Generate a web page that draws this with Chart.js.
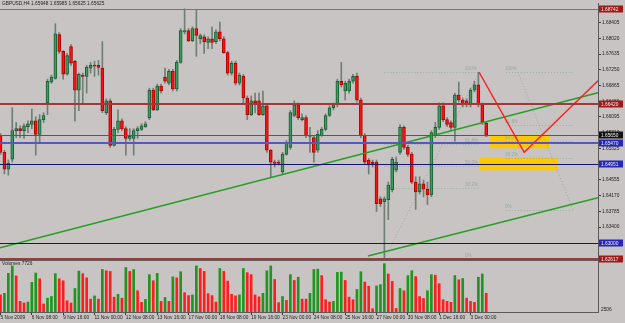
<!DOCTYPE html>
<html>
<head>
<meta charset="utf-8">
<script src="https://cdn.jsdelivr.net/npm/chart.js@4.4.1/dist/chart.umd.min.js"></script>
<style>
  html, body { margin: 0; padding: 0; background: #c8c4c4; }
  canvas { display: block; }
</style>
</head>
<body>
<canvas id="fx" width="625" height="323"></canvas>
<script>
// GBPUSD H4, bars 0..124 (5 Nov 2009 00:00 -> 3 Dec 2009 16:00)
const opens = [
  1.6564, 1.6523, 1.6482, 1.6506, 1.6576, 1.6581, 1.6576, 1.6586, 1.6591, 1.6600,
  1.6567, 1.6603, 1.6644, 1.6695, 1.6704, 1.6811, 1.6770, 1.6714, 1.6782, 1.6746,
  1.6675, 1.6712, 1.6709, 1.6729, 1.6736, 1.6736, 1.6729, 1.6620, 1.6649, 1.6540,
  1.6579, 1.6600, 1.6581, 1.6557, 1.6557, 1.6576, 1.6579, 1.6586, 1.6608, 1.6675,
  1.6627, 1.6685, 1.6707, 1.6692, 1.6721, 1.6678, 1.6743, 1.6818, 1.6821, 1.6796,
  1.6826, 1.6801, 1.6806, 1.6792, 1.6801, 1.6794, 1.6818, 1.6801, 1.6767, 1.6717,
  1.6741, 1.6692, 1.6709, 1.6656, 1.6615, 1.6649, 1.6649, 1.6615, 1.6637, 1.6528,
  1.6499, 1.6499, 1.6475, 1.6518, 1.6535, 1.6613, 1.6639, 1.6603, 1.6608, 1.6562,
  1.6559, 1.6528, 1.6564, 1.6579, 1.6613, 1.6632, 1.6639, 1.6697, 1.6673, 1.6673,
  1.6697, 1.6709, 1.6651, 1.6564, 1.6504, 1.6499, 1.6499, 1.6409, 1.6402, 1.6407,
  1.6431, 1.6479, 1.6523, 1.6584, 1.6535, 1.6518, 1.6450, 1.6426, 1.6446, 1.6433,
  1.6419, 1.6564, 1.6584, 1.6637, 1.6603, 1.6596, 1.6584, 1.6663, 1.6651, 1.6649,
  1.6639, 1.6675, 1.6688, 1.6639, 1.65948
];
const highs = [
  1.6569, 1.6528, 1.6504, 1.6632, 1.6596, 1.6588, 1.6593, 1.6600, 1.6629, 1.6610,
  1.6615, 1.6620, 1.6702, 1.6712, 1.6838, 1.6816, 1.6772, 1.6765, 1.6787, 1.6748,
  1.6717, 1.6717, 1.6736, 1.6743, 1.6746, 1.6748, 1.6794, 1.6654, 1.6654, 1.6584,
  1.6627, 1.6605, 1.6586, 1.6581, 1.6581, 1.6586, 1.6593, 1.6598, 1.6680, 1.6680,
  1.6690, 1.6690, 1.6729, 1.6726, 1.6726, 1.6748, 1.6826, 1.68742, 1.6826, 1.6830,
  1.6872, 1.6813, 1.6811, 1.6806, 1.6830, 1.6823, 1.6842, 1.6806, 1.6770, 1.6746,
  1.6746, 1.6717, 1.6714, 1.6661, 1.6661, 1.6668, 1.6668, 1.6673, 1.6642, 1.6530,
  1.6504, 1.6504, 1.6523, 1.6552, 1.6625, 1.6649, 1.6644, 1.6617, 1.6613, 1.6584,
  1.6564, 1.6576, 1.6584, 1.6617, 1.6637, 1.6644, 1.6702, 1.6743, 1.6697, 1.6702,
  1.6714, 1.6717, 1.6656, 1.6569, 1.6508, 1.6504, 1.6504, 1.6414, 1.6414, 1.6450,
  1.6511, 1.6511, 1.6591, 1.6588, 1.6540, 1.6523, 1.6463, 1.6463, 1.6455, 1.6450,
  1.6576, 1.6596, 1.6644, 1.6644, 1.6608, 1.6600, 1.6668, 1.6695, 1.6656, 1.6654,
  1.6680, 1.6697, 1.6719, 1.6644, 1.65985
];
const lows = [
  1.6518, 1.6470, 1.6467, 1.6499, 1.6559, 1.6559, 1.6557, 1.6571, 1.6581, 1.6516,
  1.6547, 1.6596, 1.6615, 1.6692, 1.6702, 1.6765, 1.6702, 1.6712, 1.6736, 1.6600,
  1.6625, 1.6644, 1.6668, 1.6717, 1.6709, 1.6712, 1.6620, 1.6615, 1.6535, 1.6538,
  1.6571, 1.6576, 1.6516, 1.6552, 1.6516, 1.6557, 1.6576, 1.6584, 1.6603, 1.6625,
  1.6625, 1.6668, 1.6692, 1.6688, 1.6673, 1.6673, 1.6741, 1.6813, 1.6794, 1.6794,
  1.6758, 1.6789, 1.6765, 1.6777, 1.6777, 1.6789, 1.6796, 1.6765, 1.6712, 1.6712,
  1.6688, 1.6688, 1.6644, 1.6603, 1.6613, 1.6620, 1.6613, 1.6613, 1.6523, 1.6463,
  1.6487, 1.6492, 1.6470, 1.6516, 1.6530, 1.6610, 1.6603, 1.6600, 1.6559, 1.6523,
  1.6499, 1.6523, 1.6562, 1.6576, 1.6610, 1.6627, 1.6634, 1.6683, 1.6651, 1.6668,
  1.6692, 1.6646, 1.6559, 1.6494, 1.6470, 1.6487, 1.6378, 1.6390, 1.62617, 1.6358,
  1.6426, 1.6475, 1.6518, 1.6530, 1.6513, 1.6446, 1.6383, 1.6421, 1.6414, 1.6395,
  1.6414, 1.6559, 1.6579, 1.6598, 1.6586, 1.6579, 1.6550, 1.6646, 1.6634, 1.6634,
  1.6634, 1.6671, 1.6634, 1.6591, 1.65625
];
const closes = [
  1.6523, 1.6482, 1.6496, 1.6576, 1.6581, 1.6576, 1.6588, 1.6593, 1.6600, 1.6567,
  1.6603, 1.6613, 1.6697, 1.6707, 1.6813, 1.6770, 1.6714, 1.6760, 1.6741, 1.6675,
  1.6714, 1.6709, 1.6731, 1.6736, 1.6734, 1.6731, 1.6625, 1.6649, 1.6540, 1.6579,
  1.6600, 1.6581, 1.6557, 1.6562, 1.6576, 1.6581, 1.6588, 1.6593, 1.6675, 1.6627,
  1.6685, 1.6673, 1.6697, 1.6721, 1.6678, 1.6743, 1.6821, 1.6821, 1.6796, 1.6826,
  1.6809, 1.6809, 1.6794, 1.6801, 1.6792, 1.6818, 1.6801, 1.6767, 1.6717, 1.6741,
  1.6692, 1.6712, 1.6656, 1.6615, 1.6649, 1.6644, 1.6615, 1.6637, 1.6528, 1.6499,
  1.6496, 1.6496, 1.6518, 1.6547, 1.6620, 1.6639, 1.6608, 1.6608, 1.6564, 1.6564,
  1.6523, 1.6567, 1.6579, 1.6613, 1.6632, 1.6639, 1.6697, 1.6688, 1.6692, 1.6697,
  1.6709, 1.6651, 1.6564, 1.6499, 1.6492, 1.6494, 1.6397, 1.6397, 1.6409, 1.6443,
  1.6506, 1.6499, 1.6584, 1.6535, 1.6518, 1.6450, 1.6426, 1.6446, 1.6433, 1.6419,
  1.6571, 1.6584, 1.6637, 1.6603, 1.6591, 1.6584, 1.6663, 1.6651, 1.6639, 1.6639,
  1.6675, 1.6688, 1.6639, 1.6596, 1.65625
];
const volumes = [
  7049, 7714, 15960, 19019, 14896, 4389, 3724, 4123, 12236, 16093,
  13699, 3325, 5719, 6384, 15827, 13699, 12901, 4655, 3724, 9709,
  16891, 15827, 14098, 5320, 6650, 5320, 17556, 17024, 16758, 6118,
  7315, 5719, 18354, 16758, 17556, 8778, 3990, 5187, 15428, 12901,
  15960, 4389, 5985, 4389, 14497, 14098, 16625, 7980, 6783, 7049,
  19019, 17955, 16758, 7581, 6783, 4123, 17955, 16758, 12768, 7315,
  6650, 7049, 17955, 16226, 15428, 7049, 6251, 7714, 17024, 19019,
  13433, 3857, 6384, 4788, 15428, 13034, 14364, 5320, 5320, 7714,
  17556, 17689, 15029, 5054, 4123, 4389, 16359, 16500, 13034, 6118,
  5054, 9310, 16625, 12369, 10640, 1330, 10773, 11305, 19950, 15694,
  12635, 1463, 9709, 8778, 15029, 17024, 14630, 6384, 5586, 8778,
  15428, 15200, 11704, 5054, 4389, 3990, 15029, 13300, 13832, 5719,
  4389, 3990, 14364, 15694, 7726
];

const tickBars = [0, 8, 16, 24, 32, 40, 48, 56, 64, 72, 80, 88, 96, 104, 112, 120];
const timeLabels = ['5 Nov 2009', '6 Nov 08:00', '9 Nov 16:00', '11 Nov 00:00', '12 Nov 08:00',
  '13 Nov 16:00', '17 Nov 00:00', '18 Nov 08:00', '19 Nov 16:00', '23 Nov 00:00', '24 Nov 08:00',
  '25 Nov 16:00', '27 Nov 00:00', '30 Nov 08:00', '1 Dec 16:00', '3 Dec 00:00'];
const priceTicks = [1.68405, 1.68020, 1.67635, 1.67250, 1.66865, 1.66480, 1.66095, 1.65710,
  1.65325, 1.64940, 1.64555, 1.64170, 1.63785, 1.63400, 1.63015];

// horizontal levels drawn on the chart
const levelPrices = [1.68742, 1.66420, 1.65650, 1.65470, 1.64951, 1.63000, 1.62617];
const levelKinds = ['res', 'res2', 'mark', 'blue', 'navy', 'navy', 'res2'];

// trend lines: [bar, price] pairs
const channelUpper = [[-0.13, 1.6289], [152.54, 1.6669]];
const channelLower = [[93.8, 1.6269], [152.54, 1.6412]];
const projection = [[122.2, 1.6719], [133.7, 1.6523], [152.54, 1.6698]];

// target zones: [fromBar, toBar, top, bottom]
const zones = [[125.0, 140.0, 1.6564, 1.6533], [122.2, 142.1, 1.6511, 1.6479]];

// fibonacci retracements
const fibRatios = [0, 0.382, 0.5, 0.618, 1];
const fibNames = ['0%', '38.2%', '50.0%', '61.8%', '100%'];
const fibA = { from: 98, to: 122, low: 1.62617, high: 1.6719, labelBar: 118.6 };
const fibB = { from: 129, to: 146.2, low: 1.6381, high: 1.6719, labelBar: 128.8 };
const fibADiag = [[98, 1.62617], [122.2, 1.6719]];
const fibBDiag = [[132.1, 1.6719], [146.2, 1.6381]];

const symbolName = 'GBPUSD,H4';
const volumeScaleText = '2506';

const BG = '#c8c4c4';
const FONT = '"Liberation Sans", Arial, sans-serif';
const tagColors = { res: '#a01818', res2: '#a01818', mark: '#111111', blue: '#2626b8', navy: '#2626b8' };
const lineColors = { res: '#b35a5a', res2: '#9a3c3c', mark: '#4d5f4f', blue: '#5656cc', navy: '#14146e' };
const lineWidths = { res: 1, res2: 2, mark: 1, blue: 2, navy: 1 };

const bars = opens.map((_, i) => i);
const isUp = i => closes[i] >= opens[i];
const pts = arr => arr.map(p => ({ x: p[0], y: p[1] }));

const overlay = {
  id: 'overlay',
  beforeDraw(chart) {
    const ctx = chart.ctx;
    ctx.save();
    ctx.fillStyle = BG;
    ctx.fillRect(0, 0, chart.width, chart.height);
    ctx.restore();
  },
  beforeDatasetsDraw(chart) {
    const { ctx, chartArea: a, scales: { x, y } } = chart;
    ctx.save();
    ctx.beginPath();
    ctx.rect(a.left, a.top, a.right - a.left, a.bottom - a.top);
    ctx.clip();
    zones.forEach(z => {
      const x0 = x.getPixelForValue(z[0]), x1 = x.getPixelForValue(z[1]);
      const y0 = y.getPixelForValue(z[2]), y1 = y.getPixelForValue(z[3]);
      ctx.fillStyle = '#ffc800';
      ctx.fillRect(x0, y0, x1 - x0, y1 - y0);
    });
    ctx.setLineDash([1, 2]);
    ctx.lineWidth = 1;
    ctx.strokeStyle = '#9aab9a';
    ctx.fillStyle = '#98a898';
    ctx.font = '4.6px ' + FONT;
    ctx.textBaseline = 'bottom';
    [fibA, fibB].forEach(f => {
      fibRatios.forEach((r, k) => {
        const py = Math.round(y.getPixelForValue(f.low + (f.high - f.low) * r)) + 0.5;
        ctx.beginPath();
        ctx.moveTo(x.getPixelForValue(f.from), py);
        ctx.lineTo(x.getPixelForValue(f.to), py);
        ctx.stroke();
        ctx.fillText(fibNames[k], x.getPixelForValue(f.labelBar), py - 1);
      });
    });
    ctx.restore();
  },
  afterDatasetsDraw(chart) {
    const { ctx, chartArea: a, scales: { y } } = chart;
    ctx.save();
    levelPrices.forEach((p, k) => {
      const kind = levelKinds[k];
      const w = lineWidths[kind];
      const py = Math.round(y.getPixelForValue(p)) + (w === 1 ? 0.5 : 0);
      ctx.strokeStyle = lineColors[kind];
      ctx.lineWidth = w;
      ctx.beginPath();
      ctx.moveTo(a.left, py);
      ctx.lineTo(a.right, py);
      ctx.stroke();
    });
    // separator between price window and volume window
    ctx.strokeStyle = '#5e5e5e';
    ctx.lineWidth = 1;
    ctx.beginPath();
    ctx.moveTo(a.left, 260.5);
    ctx.lineTo(a.right, 260.5);
    ctx.stroke();
    ctx.restore();
  },
  afterDraw(chart) {
    const { ctx, chartArea: a, scales: { y } } = chart;
    ctx.save();
    ctx.font = '4.8px ' + FONT;
    ctx.textBaseline = 'middle';
    levelPrices.forEach((p, k) => {
      const py = Math.round(y.getPixelForValue(p));
      ctx.fillStyle = tagColors[levelKinds[k]];
      ctx.fillRect(a.right + 1, py - 3.5, 24, 7);
      ctx.fillStyle = '#f0f0f0';
      ctx.fillText(p.toFixed(5), a.right + 3, py + 0.5);
    });
    ctx.fillStyle = '#1c1c1c';
    ctx.fillText(symbolName + ' ' + opens[opens.length - 1].toFixed(5) + ' ' +
      highs[highs.length - 1].toFixed(5) + ' ' + lows[lows.length - 1].toFixed(5) + ' ' +
      closes[closes.length - 1].toFixed(5), 2, 4);
    ctx.fillText('Volumes ' + volumes[volumes.length - 1], 2, 264);
    ctx.fillText(volumeScaleText, a.right + 3, a.bottom - 2);
    ctx.restore();
  }
};

new Chart(document.getElementById('fx'), {
  type: 'bar',
  data: {
    datasets: [
      {
        label: 'body',
        data: bars.map(i => ({ x: i, y: [opens[i], closes[i]] })),
        backgroundColor: c => isUp(c.dataIndex) ? '#3a9c5e' : '#ff1010',
        borderColor: c => isUp(c.dataIndex) ? '#1d5c35' : '#b00000',
        borderWidth: 1,
        borderSkipped: false,
        barThickness: 3,
        minBarLength: 1,
        grouped: false,
        order: 1,
        yAxisID: 'y'
      },
      {
        label: 'wick',
        data: bars.map(i => ({ x: i, y: [lows[i], highs[i]] })),
        backgroundColor: '#6f7f73',
        barThickness: 1,
        grouped: false,
        order: 2,
        yAxisID: 'y'
      },
      {
        label: 'Volumes',
        data: bars.map(i => ({ x: i, y: volumes[i] })),
        backgroundColor: c => (c.dataIndex > 0 && volumes[c.dataIndex] > volumes[c.dataIndex - 1]) ? '#1f961f' : '#ff1e1e',
        barThickness: 2,
        grouped: false,
        order: 2,
        yAxisID: 'yv'
      },
      {
        type: 'line', label: 'fibA', data: pts(fibADiag), yAxisID: 'y',
        borderColor: '#9aab9a', borderWidth: 1, borderDash: [1, 2], pointRadius: 0, order: 3
      },
      {
        type: 'line', label: 'fibB', data: pts(fibBDiag), yAxisID: 'y',
        borderColor: '#9aab9a', borderWidth: 1, borderDash: [1, 2], pointRadius: 0, order: 3
      },
      {
        type: 'line', label: 'channel upper', data: pts(channelUpper), yAxisID: 'y',
        borderColor: '#22a022', borderWidth: 1.5, pointRadius: 0, order: -1
      },
      {
        type: 'line', label: 'channel lower', data: pts(channelLower), yAxisID: 'y',
        borderColor: '#22a022', borderWidth: 1.5, pointRadius: 0, order: -1
      },
      {
        type: 'line', label: 'projection', data: pts(projection), yAxisID: 'y',
        borderColor: '#ff2020', borderWidth: 1.5, pointRadius: 0, order: -2
      }
    ]
  },
  options: {
    responsive: false,
    animation: false,
    devicePixelRatio: 1,
    events: [],
    layout: { padding: 0 },
    plugins: { legend: { display: false }, tooltip: { enabled: false } },
    scales: {
      x: {
        type: 'linear',
        position: 'bottom',
        min: -0.13,
        max: 152.54,
        offset: false,
        afterBuildTicks: s => { s.ticks = tickBars.map(v => ({ value: v })); },
        afterFit: s => { s.height = 11; },
        ticks: {
          autoSkip: false,
          maxRotation: 0,
          align: 'start',
          padding: 0,
          color: '#1c1c1c',
          font: { size: 4.8, family: FONT },
          callback: v => timeLabels[tickBars.indexOf(v)]
        },
        grid: { drawOnChartArea: false, offset: false, tickLength: 3, color: '#3a3a3a' },
        border: { color: '#5a5a5a' }
      },
      y: {
        type: 'linear',
        position: 'right',
        min: 1.6132,
        max: 1.68864,
        afterBuildTicks: s => { s.ticks = priceTicks.map(v => ({ value: v })); },
        afterFit: s => { s.width = 27; },
        ticks: {
          autoSkip: false,
          padding: 1,
          color: '#1c1c1c',
          font: { size: 4.8, family: FONT },
          callback: v => v.toFixed(5)
        },
        grid: { drawOnChartArea: false, tickLength: 3, color: '#3a3a3a' },
        border: { color: '#5a5a5a' }
      },
      yv: {
        type: 'linear',
        position: 'right',
        display: false,
        min: 0,
        max: 127200
      }
    }
  },
  plugins: [overlay]
});
</script>
</body>
</html>
